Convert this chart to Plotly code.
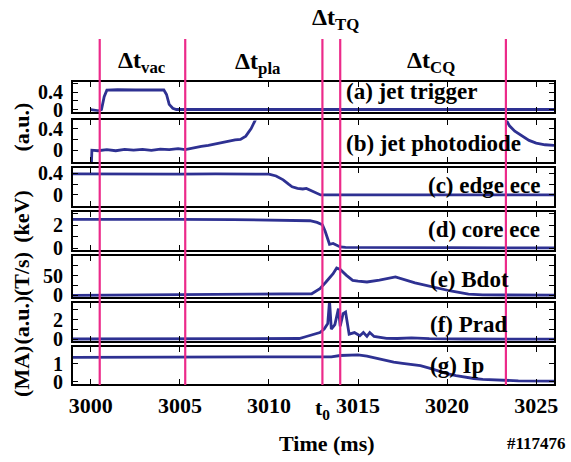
import plotly.graph_objects as go

# ---------------- data ----------------
t_trig = [3000.0, 3000.2, 3000.45, 3000.6, 3000.75, 3000.9, 3001.5, 3002.5, 3003.5, 3004.1,
          3004.25, 3004.4, 3004.6, 3004.8, 3010.0, 3015.0, 3020.0, 3026.0]
v_trig = [0.0, -0.01, -0.03, 0.0, 0.3, 0.45, 0.46, 0.455, 0.46, 0.455,
          0.35, 0.12, 0.03, 0.0, 0.0, 0.005, 0.0, 0.0]

t_diode = [3000.03, 3000.06, 3000.4, 3000.9, 3001.4, 3001.9, 3002.4, 3002.9, 3003.4, 3003.9,
           3004.4, 3004.9, 3005.3, 3005.8, 3006.2, 3006.6, 3007.0, 3007.4, 3007.8, 3008.1,
           3008.4, 3008.7, 3009.0, 3009.3, None,
           3023.25, 3023.5, 3023.8, 3024.2, 3024.6, 3025.0, 3025.5, 3026.0]
v_diode = [-0.3, 0.0, -0.01, 0.01, -0.01, 0.015, 0.0, 0.015, -0.005, 0.02,
           0.01, 0.03, 0.01, 0.05, 0.07, 0.09, 0.12, 0.14, 0.17, 0.19,
           0.2, 0.26, 0.4, 0.6, None,
           0.6, 0.45, 0.35, 0.26, 0.18, 0.13, 0.1, 0.09]

t_edge = [2999.0, 3001.0, 3003.0, 3005.0, 3007.0, 3009.0, 3010.0, 3010.4, 3010.8, 3011.1,
          3011.3, 3011.6, 3011.9, 3012.1, 3012.3, 3012.6, 3012.9, 3014.0, 3018.0, 3022.0, 3026.0]
v_edge = [0.39, 0.385, 0.39, 0.385, 0.39, 0.385, 0.385, 0.35, 0.28, 0.2,
          0.15, 0.12, 0.11, 0.12, 0.09, 0.04, 0.0, 0.0, 0.0, 0.0, 0.0]

t_core = [2999.0, 3002.0, 3005.0, 3008.0, 3011.0, 3012.3, 3012.7, 3013.0, 3013.15, 3013.3,
          3013.4, 3013.6, 3013.8, 3014.0, 3014.3, 3016.0, 3020.0, 3026.0]
v_core = [2.52, 2.54, 2.52, 2.5, 2.47, 2.4, 2.25, 2.05, 1.5, 0.7,
          0.35, 0.42, 0.25, 0.12, 0.07, 0.05, 0.05, 0.03]

t_bdot = [2999.0, 3003.0, 3006.0, 3009.0, 3012.4, 3012.86, 3013.2, 3013.6, 3013.8, 3014.0,
          3014.35, 3014.7, 3015.0, 3015.5, 3016.2, 3017.1, 3018.2, 3019.2, 3020.2, 3021.2,
          3022.0, 3026.0]
v_bdot = [0.0, 0.5, 1.5, 3.0, 4.0, 17.0, 34.0, 55.0, 70.0, 66.0,
          51.0, 38.0, 36.0, 34.0, 39.0, 47.0, 32.0, 21.0, 11.0, 3.0,
          1.0, 0.5]

t_prad = [2999.0, 3003.0, 3007.0, 3011.0, 3011.7, 3012.1, 3012.48, 3012.86, 3013.1, 3013.3,
          3013.4, 3013.5, 3013.7, 3013.9, 3014.0, 3014.16, 3014.3, 3014.4, 3014.5, 3014.8,
          3015.1, 3015.3, 3015.5, 3015.66, 3015.9, 3016.6, 3017.2, 3018.0, 3019.0, 3021.0, 3026.0]
v_prad = [0.05, 0.05, 0.06, 0.07, 0.1, 0.3, 0.5, 0.7, 1.05, 1.6,
          3.9, 1.05, 1.5, 3.1, 1.33, 2.6, 2.76, 1.65, 0.54, 0.7,
          0.38, 0.7, 0.31, 0.7, 0.31, 0.12, 0.1, 0.16, 0.08, 0.05, 0.04]

t_ip = [2999.0, 3005.0, 3010.0, 3013.0, 3013.5, 3014.0, 3014.5, 3015.0, 3015.5, 3016.0,
        3016.5, 3017.0, 3017.5, 3018.0, 3018.5, 3019.0, 3019.5, 3020.0, 3020.5, 3021.0,
        3021.5, 3022.0, 3023.0, 3024.0, 3026.0]
v_ip = [1.35, 1.35, 1.35, 1.35, 1.38, 1.45, 1.48, 1.48, 1.42, 1.3,
        1.19, 1.09, 1.02, 0.97, 0.89, 0.76, 0.6, 0.46, 0.35, 0.26,
        0.19, 0.14, 0.09, 0.06, 0.045]

series_t = [t_trig, t_diode, t_edge, t_core, t_bdot, t_prad, t_ip]
series_v = [v_trig, v_diode, v_edge, v_core, v_bdot, v_prad, v_ip]
panel_labels = ["(a) jet trigger", "(b) jet photodiode", "(c) edge ece", "(d) core ece",
                "(e) Bdot", "(f) Prad", "(g) Ip"]
y_tickvals = [[0, 0.2, 0.4, 0.6], [0, 0.2, 0.4], [0, 0.2, 0.4], [0, 1, 2, 3],
              [0, 25, 50, 75], [0, 1, 2, 3], [0, 1]]
y_ticktext = [["0", "", "0.4", ""], ["0", "", "0.4"], ["0", "", "0.4"], ["0", "", "2", ""],
              ["0", "", "50", ""], ["0", "", "2", ""], ["0", "1"]]
y_ranges = [[-0.05, 0.65], [-0.22, 0.55], [-0.2, 0.5], [-0.18, 3.2],
            [-4, 100], [-0.2, 3.7], [-0.12, 1.9]]
x_ticks = [3000, 3005, 3010, 3015, 3020, 3025]
event_times = [3000.5, 3005.3, 3013.0, 3014.0, 3023.3]
unit_labels = ["(a.u.)", "(keV)", "(T/s)", "(a.u.)", "(MA)"]
interval_labels = ["Δt<sub>vac</sub>", "Δt<sub>pla</sub>", "Δt<sub>TQ</sub>", "Δt<sub>CQ</sub>"]
interval_x = [3002.9, 3009.4, 3013.75, 3019.1]

# ---------------- layout helpers ----------------
W, H = 571, 462
L, R = 72.7, 554.5
panel_px = [(78, 111), (118, 163), (167, 208), (212, 254),
            (258, 302), (306, 348), (352, 392)]
label_pos = [(3014.2, 89, "left"), (3014.2, 143, "left"), (3025.3, 186, "right"),
             (3025.3, 232, "right"), (3018.9, 283, "left"), (3018.9, 329, "left"),
             (3018.9, 372, "left")]
unit_y = [126, 218, 277, 325, 378]
interval_y = [59, 60, 14, 59]


def py(ypx):
    return 1 - ypx / H


def px(xpx):
    return (xpx - L) / (R - L)


FONT = "Liberation Serif"
BLUE = "#2e3192"
PINK = "#ec2a8a"

fig = go.Figure()
layout = dict(width=W, height=H, margin=dict(l=L, r=W - R, t=0, b=0),
              paper_bgcolor="white", plot_bgcolor="white", showlegend=False,
              font=dict(family=FONT, size=20, color="black"))

for i in range(7):
    n = "" if i == 0 else str(i + 1)
    fig.add_trace(go.Scatter(x=series_t[i], y=series_v[i], mode="lines",
                             line=dict(color=BLUE, width=2.8),
                             xaxis="x" + n, yaxis="y" + n, hoverinfo="skip"))
    top, bot = panel_px[i]
    layout["xaxis" + n] = dict(
        domain=[0, 1], anchor="y" + n, range=[2999, 3026],
        tickvals=x_ticks, ticks="inside", ticklen=5, tickwidth=1.2, tickcolor="black",
        showline=True, linewidth=2, linecolor="black", mirror="ticks",
        showgrid=False, zeroline=False, showticklabels=(i == 6),
        tickfont=dict(family=FONT, size=22, weight="bold"),
        **({} if i == 0 else {"matches": "x"}))
    layout["yaxis" + n] = dict(
        domain=[py(bot - 1), py(top + 1)], anchor="x" + n, range=y_ranges[i],
        tickvals=y_tickvals[i], ticktext=y_ticktext[i],
        ticks="inside", ticklen=5, tickwidth=1.2, tickcolor="black",
        showline=True, linewidth=2, linecolor="black", mirror="ticks",
        showgrid=False, zeroline=False, ticklabelstandoff=4,
        tickfont=dict(family=FONT, size=20, weight="bold"))

shapes = []
for t in event_times:
    shapes.append(dict(type="line", xref="x7", yref="paper", x0=t, x1=t,
                       y0=py(392), y1=py(35), line=dict(color=PINK, width=2.2),
                       layer="above"))
layout["shapes"] = shapes

ann = []
for i in range(7):
    xv, ypx_, anc = label_pos[i]
    ann.append(dict(text="<b>%s</b>" % panel_labels[i], xref="x7", yref="paper",
                    x=xv, y=py(ypx_), xanchor=anc, yanchor="middle", showarrow=False,
                    font=dict(family=FONT, size=23, color="black")))
for u, yy in zip(unit_labels, unit_y):
    ann.append(dict(text="<b>%s</b>" % u, xref="paper", yref="paper", x=px(21), y=py(yy),
                    xanchor="center", yanchor="middle", textangle=-90, showarrow=False,
                    font=dict(family=FONT, size=22, color="black")))
for lab, xv, yy in zip(interval_labels, interval_x, interval_y):
    ann.append(dict(text="<b>%s</b>" % lab, xref="x7", yref="paper", x=xv, y=py(yy),
                    xanchor="center", yanchor="middle", showarrow=False,
                    font=dict(family=FONT, size=24, color="black")))
ann.append(dict(text="<b>t<sub>0</sub></b>", xref="x7", yref="paper", x=3013.0, y=py(417),
                xanchor="center", yanchor="middle", showarrow=False,
                font=dict(family=FONT, size=22, color="black")))
ann.append(dict(text="<b>Time (ms)</b>", xref="paper", yref="paper", x=px(327), y=py(452),
                xanchor="center", yanchor="middle", showarrow=False,
                font=dict(family=FONT, size=22, color="black")))
ann.append(dict(text="<b>#117476</b>", xref="paper", yref="paper", x=px(537), y=py(452),
                xanchor="center", yanchor="middle", showarrow=False,
                font=dict(family=FONT, size=17, color="black")))
layout["annotations"] = ann

fig.update_layout(**layout)
fig.write_html("out.html")
